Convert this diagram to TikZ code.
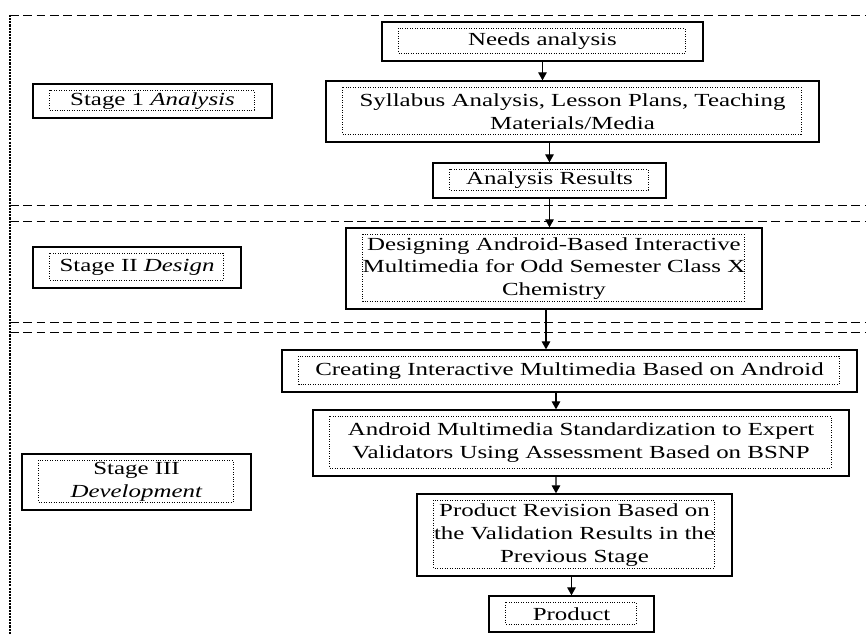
\documentclass[tikz,border=0pt]{standalone}
\usepackage{fontspec}
\setmainfont{Liberation Serif}[FakeStretch=1.35]
\usepackage{tikz}
\usetikzlibrary{arrows.meta}

\begin{document}
\begin{tikzpicture}[>={Triangle[length=1.6mm,width=1.7mm]},font=\fontsize{10.5}{13}\selectfont,
  stepbox/.style={draw,line width=0.7pt,align=center,inner sep=0pt,
    path picture={\draw[densely dotted,line width=0.4pt]
      ([shift={(0.33,-0.13)}]path picture bounding box.north west) rectangle
      ([shift={(-0.36,0.16)}]path picture bounding box.south east);}},
  stageline/.style={line width=0.5pt,dash pattern=on 5pt off 2.6pt},
  arr/.style={->,line width=0.7pt}]
\useasboundingbox (0,0) rectangle (17.32,12.68);
\draw[stageline] (0.2,12.38) -- (17.32,12.38);
\draw[stageline] (0.2,8.58) -- (17.32,8.58);
\draw[stageline] (0.2,8.26) -- (17.32,8.26);
\draw[stageline] (0.2,6.24) -- (17.32,6.24);
\draw[stageline] (0.2,6.04) -- (17.32,6.04);
\draw[line width=0.6pt,dash pattern=on 1.2pt off 0.6pt] (0.2,12.38) -- (0.2,0);
\node[stepbox,minimum width=4.78cm,minimum height=0.68cm] (s1) at (3.05,10.66) {Stage 1 \textit{Analysis}};
\node[stepbox,minimum width=4.16cm,minimum height=0.82cm] (s2) at (2.74,7.33) {Stage II \textit{Design}};
\node[stepbox,minimum width=4.58cm,minimum height=1.12cm] (s3) at (2.73,3.04) {Stage III\\\textit{Development}};
\node[stepbox,minimum width=6.42cm,minimum height=0.78cm] (needs) at (10.85,11.85) {Needs analysis};
\node[stepbox,minimum width=9.86cm,minimum height=1.22cm] (syll) at (11.45,10.45) {Syllabus Analysis, Lesson Plans, Teaching\\Materials/Media};
\node[stepbox,minimum width=4.66cm,minimum height=0.70cm] (res) at (10.99,9.07) {Analysis Results};
\node[stepbox,minimum width=8.32cm,minimum height=1.62cm] (design) at (11.08,7.31) {Designing Android-Based Interactive\\Multimedia for Odd Semester Class X\\Chemistry};
\node[stepbox,minimum width=11.5cm,minimum height=0.84cm] (create) at (11.39,5.26) {Creating Interactive Multimedia Based on Android};
\node[stepbox,minimum width=10.72cm,minimum height=1.32cm] (android) at (11.62,3.82) {Android Multimedia Standardization to Expert\\Validators Using Assessment Based on BSNP};
\node[stepbox,minimum width=6.30cm,minimum height=1.64cm] (revision) at (11.49,1.98) {Product Revision Based on\\the Validation Results in the\\Previous Stage};
\node[stepbox,minimum width=3.30cm,minimum height=0.72cm] (product) at (11.43,0.40) {Product};
\draw[arr] (needs.south) -- (needs.south |- syll.north);
\draw[arr] (syll.south -| res.north) -- (res.north);
\draw[arr] (res.south) -- (res.south |- design.north);
\draw[arr] ([xshift=-0.16cm]design.south) -- ([xshift=-0.47cm]create.north);
\draw[arr] ([xshift=-0.27cm]create.south) -- ([xshift=-0.50cm]android.north);
\draw[arr] ([xshift=-0.50cm]android.south) -- ([xshift=-0.37cm]revision.north);
\draw[arr] (revision.south -| product.north) -- (product.north);
\end{tikzpicture}
\end{document}
